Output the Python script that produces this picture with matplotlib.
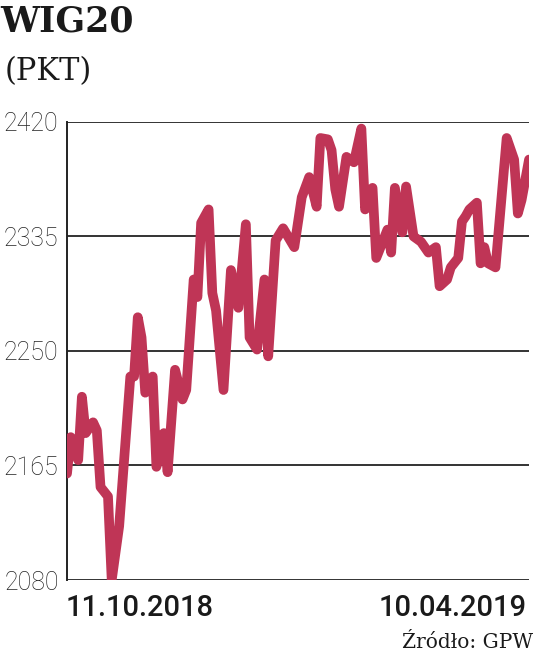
import matplotlib.pyplot as plt

# WIG20 values (x = session number counted from 11.10.2018)
session = [0, 1, 3, 4, 5, 7, 8, 9, 11, 12,
           14, 17, 18, 19, 20, 21, 23, 24, 26, 27,
           29, 31, 32, 34, 35, 36, 38, 39, 40, 42,
           44, 46, 48, 49, 51, 53, 54, 56, 58, 61,
           63, 65, 67, 68, 70, 71, 72, 73, 75, 77,
           79, 80, 82, 83, 86, 87, 88, 90, 91, 93,
           95, 97, 99, 100, 102, 103, 105, 106, 107, 108,
           110, 111, 112, 113, 115, 118, 120, 121, 122, 124]
wig20 = [2159, 2186, 2169, 2216, 2189, 2197, 2191, 2149, 2142, 2080,
         2120, 2231, 2231, 2275, 2260, 2219, 2231, 2164, 2189, 2160,
         2236, 2214, 2221, 2303, 2290, 2345, 2355, 2293, 2280, 2221,
         2310, 2282, 2344, 2260, 2251, 2303, 2246, 2332, 2341, 2327,
         2364, 2379, 2357, 2408, 2407, 2399, 2370, 2357, 2394, 2390,
         2415, 2355, 2371, 2319, 2340, 2323, 2371, 2338, 2372, 2335,
         2331, 2323, 2327, 2298, 2303, 2312, 2319, 2346, 2350, 2355,
         2360, 2315, 2327, 2315, 2312, 2408, 2392, 2352, 2362, 2392]
yticks = [2080, 2165, 2250, 2335, 2420]
start_label = "11.10.2018"
end_label = "10.04.2019"

fig = plt.figure(figsize=(5.36, 6.64), dpi=100)
ax = fig.add_axes([0.125, 0.1265, 0.862, 0.69])

for y in yticks:
    ax.axhline(y, color="#333333", lw=1.4, zorder=1)
ax.plot(session, wig20, color="#bf3556", lw=7, solid_joinstyle="round",
        solid_capstyle="round", zorder=3)

ax.set_xlim(0, 124)
ax.set_ylim(2080, 2420)
ax.set_yticks(yticks)
ax.set_yticklabels([str(v) for v in yticks], family="Roboto", weight="light",
                   fontsize=18, color="#222222")
ax.tick_params(axis="y", length=0, pad=6)
ax.set_xticks([])
for s in ["top", "right", "bottom"]:
    ax.spines[s].set_visible(False)
ax.spines["left"].set_color("#222222")
ax.spines["left"].set_linewidth(1.4)

fig.text(0.123, 0.085, start_label, ha="left", va="center", fontsize=21,
         family="Roboto", weight="medium", color="#1a1a1a")
fig.text(0.982, 0.085, end_label, ha="right", va="center", fontsize=21,
         family="Roboto", weight="medium", color="#1a1a1a")
fig.text(0.995, 0.032, "Źródło: GPW", ha="right", va="center", fontsize=14.5,
         family="DejaVu Serif", color="#1a1a1a")

fig.text(0.0, 0.968, "WIG20", ha="left", va="center", fontsize=25,
         family="DejaVu Serif", weight="bold", color="#1a1a1a")
fig.text(0.008, 0.893, "(PKT)", ha="left", va="center", fontsize=22,
         family="DejaVu Serif", color="#1a1a1a")

fig.savefig("out.png", dpi=100)
